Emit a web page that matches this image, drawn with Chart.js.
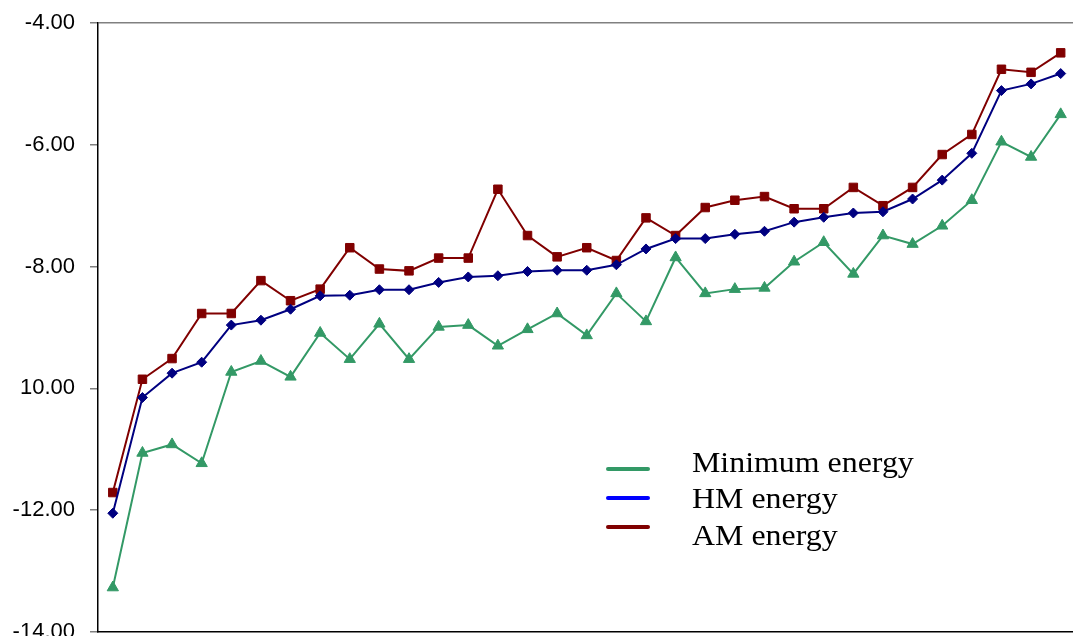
<!DOCTYPE html>
<html>
<head>
<meta charset="utf-8">
<script src="https://cdn.jsdelivr.net/npm/chart.js@4/dist/chart.umd.min.js"></script>
<style>
  html, body { margin: 0; padding: 0; background: #fff; overflow: hidden; }
</style>
</head>
<body>
<canvas id="energyChart" width="1083" height="650"></canvas>
<script>
// 33 cases along the x axis (no labels shown)
const cases = ['1','2','3','4','5','6','7','8','9','10','11','12','13','14','15','16','17',
               '18','19','20','21','22','23','24','25','26','27','28','29','30','31','32','33'];

const minEnergy = [-13.27, -11.06, -10.92, -11.23, -9.73, -9.55, -9.81, -9.09, -9.52, -8.94, -9.52,
                   -8.99, -8.96, -9.30, -9.03, -8.77, -9.13, -8.44, -8.90, -7.85, -8.44, -8.37,
                   -8.35, -7.92, -7.60, -8.12, -7.49, -7.63, -7.33, -6.91, -5.95, -6.20, -5.50];

const hmEnergy = [-12.05, -10.15, -9.75, -9.57, -8.96, -8.88, -8.70, -8.48, -8.47, -8.38, -8.38,
                  -8.26, -8.17, -8.15, -8.08, -8.06, -8.06, -7.97, -7.71, -7.54, -7.54, -7.47,
                  -7.42, -7.27, -7.19, -7.12, -7.10, -6.89, -6.58, -6.14, -5.11, -5.00, -4.83];

const amEnergy = [-11.71, -9.85, -9.51, -8.77, -8.77, -8.23, -8.56, -8.37, -7.69, -8.04, -8.07,
                  -7.86, -7.86, -6.73, -7.49, -7.84, -7.69, -7.90, -7.20, -7.49, -7.03, -6.91,
                  -6.85, -7.05, -7.05, -6.70, -7.00, -6.70, -6.16, -5.83, -4.76, -4.81, -4.49];

// tick labels as printed on the original (the 10.00 one has lost its minus sign)
const yTickValues = [-14, -12, -10, -8, -6, -4];
const yTickLabels = ['-14.00', '-12.00', '10.00', '-8.00', '-6.00', '-4.00'];

const seriesNames = ['Minimum energy', 'HM energy', 'AM energy'];
const legendColors = ['#339966', '#0000ff', '#800000'];

// legend drawn by hand, sitting inside the plot like the original
const legendPlugin = {
    id: 'floatLegend',
    afterDraw(chart) {
        const ctx = chart.ctx;
        const lineY = [469, 498, 527];
        const textBase = [472, 508, 545];
        ctx.save();
        chart.data.datasets.forEach((ds, i) => {
            ctx.strokeStyle = legendColors[i];
            ctx.lineWidth = 4;
            ctx.lineCap = 'round';
            ctx.beginPath();
            ctx.moveTo(608, lineY[i]);
            ctx.lineTo(648, lineY[i]);
            ctx.stroke();

            ctx.save();
            ctx.translate(692, textBase[i]);
            ctx.scale(1.1, 1);
            ctx.fillStyle = '#000';
            ctx.font = '29px "Liberation Serif", "Times New Roman", serif';
            ctx.textBaseline = 'alphabetic';
            ctx.textAlign = 'left';
            ctx.fillText(ds.label, 0, 0);
            ctx.restore();
        });
        ctx.restore();
    }
};

const chart = new Chart(document.getElementById('energyChart'), {
    type: 'line',
    data: {
        labels: cases,
        datasets: [
            {
                label: seriesNames[0],
                data: minEnergy,
                borderColor: '#339966',
                backgroundColor: '#339966',
                borderWidth: 2,
                pointStyle: 'triangle',
                pointRadius: 6.5,
                pointBorderWidth: 1,
                tension: 0
            },
            {
                label: seriesNames[1],
                data: hmEnergy,
                borderColor: '#000080',
                backgroundColor: '#000080',
                borderWidth: 2,
                pointStyle: 'rectRot',
                pointRadius: 5,
                pointBorderWidth: 1,
                tension: 0
            },
            {
                label: seriesNames[2],
                data: amEnergy,
                borderColor: '#800000',
                backgroundColor: '#800000',
                borderWidth: 2,
                pointStyle: 'rect',
                pointRadius: 6,
                pointBorderWidth: 1,
                tension: 0
            }
        ]
    },
    options: {
        responsive: false,
        animation: false,
        layout: { padding: { top: 23, bottom: 18, left: 0, right: 0 } },
        plugins: {
            legend: { display: false },
            tooltip: { enabled: false }
        },
        scales: {
            x: {
                offset: true,
                ticks: { display: false },
                grid: { display: false, drawTicks: false },
                border: { display: true, color: '#000', width: 1.5 },
                afterFit(scale) {
                    scale.height = 0;
                }
            },
            y: {
                min: -14,
                max: -4,
                afterBuildTicks(scale) {
                    scale.ticks = yTickValues.map(v => ({ value: v }));
                },
                afterFit(scale) {
                    scale.width = 98;
                    scale.paddingTop = 0;
                    scale.paddingBottom = 0;
                },
                ticks: {
                    padding: 15,
                    color: '#000',
                    font: { family: '"Liberation Sans", Arial, sans-serif', size: 22 },
                    callback: (value) => yTickLabels[yTickValues.indexOf(value)]
                },
                grid: {
                    color: (c) => (c.tick && c.tick.value === -4 ? '#808080' : 'rgba(0,0,0,0)'),
                    lineWidth: 1.5,
                    tickColor: '#808080',
                    tickLength: 8
                },
                border: { display: true, color: '#000', width: 1.5 }
            }
        }
    },
    plugins: [legendPlugin]
});
</script>
</body>
</html>
